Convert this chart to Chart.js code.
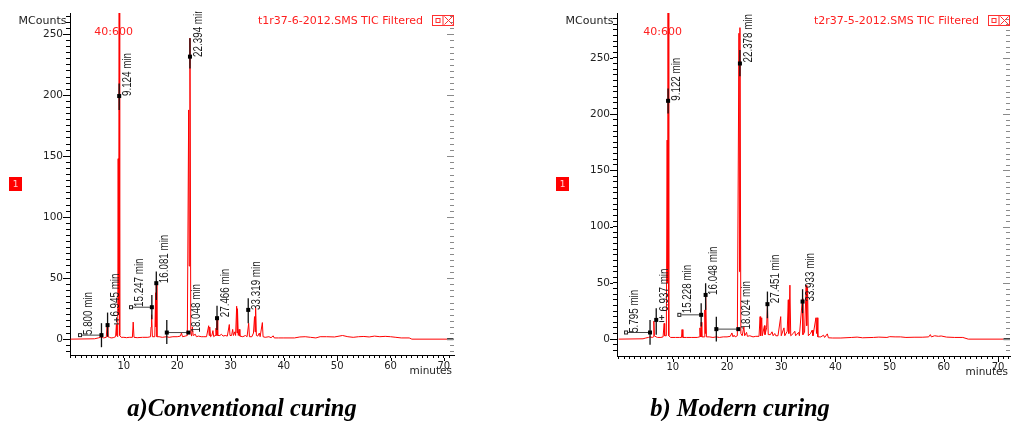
<!DOCTYPE html>
<html><head><meta charset="utf-8">
<script src="https://cdn.jsdelivr.net/npm/chart.js@4.4.1/dist/chart.umd.min.js"></script>
<style>
html,body{margin:0;padding:0;background:#fff;}
#page{position:relative;width:1012px;height:421px;overflow:hidden;background:#fff;}
canvas{position:absolute;top:0;}
.cap{position:absolute;width:400px;text-align:center;font-family:"Liberation Serif","Times New Roman",serif;font-weight:bold;font-style:italic;font-size:24.5px;line-height:24px;top:396px;white-space:nowrap;color:#000;}
</style></head><body>
<div id="page">
<canvas id="cA" width="470" height="421" style="left:0px"></canvas>
<canvas id="cB" width="482" height="421" style="left:530px"></canvas>
<div class="cap" style="left:42px">a)Conventional curing</div>
<div class="cap" style="left:540px">b) Modern curing</div>
</div>
<script>
// ---------- tick labels ----------
const xTickLabels = [10, 20, 30, 40, 50, 60, 70];
const yTickLabels = [0, 50, 100, 150, 200, 250];

// ---------- a) Conventional curing : TIC trace (minutes, MCounts) ----------
const convTime = [0,4.5,5.2,5.6,5.8,6.2,6.7,6.87,7.0,7.3,7.6,8.0,8.45,8.6,8.7,8.85,8.93,8.98,9.05,9.12,9.22,9.5,10.0,10.5,11.0,11.6,11.75,11.9,12.5,13.5,14.5,15.0,15.1,15.2,15.35,15.8,15.95,16.02,16.08,16.2,16.6,17.2,18.0,18.5,19.2,20.0,20.6,20.8,21.0,21.5,21.9,22.15,22.25,22.39,22.55,22.7,22.85,23.0,23.4,23.6,24.0,24.5,25.0,25.5,25.9,26.0,26.1,26.25,26.5,26.7,26.85,27.1,27.27,27.35,27.47,27.6,28.0,28.3,28.6,29.0,29.4,29.77,29.9,30.2,30.4,30.55,30.8,30.95,31.15,31.22,31.3,31.45,31.6,31.75,32.3,32.8,33.1,33.4,33.55,34.0,34.3,34.5,34.6,34.7,34.85,35.1,35.4,35.55,35.97,36.1,36.5,37.2,37.6,38.0,38.2,39,40,42,43,44,45,46,46.8,48,49.5,51,52,53,54,55,56,57,58,59,60,61,62,63.5,64,70.6];
const convCounts = [0,0.3,1,1.5,2,1,1.5,13,2,1.5,1,1.2,2,12,3,2,148,40,20,300,3,1.5,1.5,1.2,1.5,1.5,14,1.5,1.2,1.5,1.5,2,10,20,2,2,38,10,47,2,2,1.5,2,1.5,2,2,2.5,5,2,2.5,3,188,60,247,5,2.5,10,3,4,2,2.5,2,2,2,11,3,10,2,3,7,2,3,9,3,18,3,3,4,2.5,3,2.5,12,3,3,8,3,6,3,27,5,25,3,8,2.5,2,3,2,13,2,2,5,18.5,6,26,3,2.5,5,2,13.6,2,1.5,2,1.2,2.7,1,1,1,1,1.8,2,1.5,1,2,2,1.8,3,2,1.5,2,2.2,1.8,2.5,2,2.3,2,1.5,1,1,0,0];
const convEndTime = [70.6, 71.8];
const convEndCounts = [0, 0];

// peak marks (a)
const convPeakTime   = [5.800, 6.945, 9.124, 15.247, 16.081, 18.048, 22.394, 27.466, 33.319];
const convPeakCounts = [3.3, 11.5, 199.4, 26.2, 45.9, 5.4, 231.7, 17.2, 24.0];
const convBarLow     = [-6.6, 2.1, 187.9, 16.4, 32.2, -3.9, 222.0, 7.6, 13.1];
const convBarHigh    = [13.1, 21.8, 209.7, 36.3, 55.4, 15.8, 246.7, 27.3, 33.6];
const convLinkTime   = [1.78, null, null, 11.34, null, 22.09, null, null, null];
const convLinkOpen   = [true, false, false, true, false, false, false, false, false];
const convLabelCounts= [3.4, 18.5, 199.4, 26.4, 45.9, 5.4, 231.5, 18.0, 24.0];
const convPlusTime = 8.63, convPlusCounts = 15.8;
const convMainPeak = 9.124;

// ---------- b) Modern curing : TIC trace ----------
const modTime = [0,4.5,5.0,5.5,5.8,6.2,6.4,6.5,6.6,6.9,7.2,7.8,8.2,8.4,8.5,8.8,8.95,9.03,9.12,9.25,9.6,10.5,11.2,11.6,11.7,11.85,12.5,13.5,14.5,14.9,15.0,15.1,15.23,15.35,15.8,15.9,16.0,16.05,16.2,16.7,17.4,18.0,18.6,19.3,20.0,20.6,20.9,21.1,21.3,21.5,21.9,22.2,22.3,22.38,22.55,22.8,23.1,23.25,23.6,23.75,24.2,24.8,25.3,25.9,26.1,26.2,26.4,26.5,26.9,27.0,27.3,27.45,27.6,28.0,28.3,28.5,28.8,29.0,29.4,29.9,30.0,30.5,30.65,31.1,31.3,31.4,31.6,31.75,32.2,32.5,32.65,33.2,33.35,33.9,34.0,34.3,34.6,34.7,34.85,35.0,35.4,35.7,35.85,36.4,36.5,36.6,36.75,37.3,37.8,38.0,38.5,38.7,39.5,41,43,44,45,47,48,49.5,50,51,52,53,54.5,56,57.2,57.5,57.7,58.3,59,59.5,60.5,62,63.5,64.5,71.0];
const modCounts = [0,0.3,1,1.5,2,1.5,2,16,3,2,1.5,1.5,2,14,3,3,177,50,310,3,1.5,1.5,1.5,1.5,8.5,1.5,1.5,1.5,1.5,2,10,2,15,2,2,26,5,39,2,2,1.5,2,1.5,2,2,2.5,5.5,2,3.5,2,3,272,60,277,5,3,11,3,6,2.5,3,2,2.5,2.5,20,3,19,3,12,4,10,30,4,4,6.5,3,5,3,3,20,3,10,3,7,35,5,48,3,5,7,3,6,3,36,4,6,48,12,46,3,5,8,3,19,5,19,2,2,3.5,1.5,4.7,1.2,1,1,1.5,1.8,1.2,1.5,1.8,1.5,2.2,2,2,1.5,1.7,1.7,2,4,2,3,2.5,2.8,1.8,1.5,1.5,0,0];
const modEndTime = [71.0, 72.2];
const modEndCounts = [0, 0];

// peak marks (b)
const modPeakTime   = [5.795, 6.937, 9.122, 15.228, 16.048, 18.024, 22.378, 27.451, 33.933];
const modPeakCounts = [5.9, 17.1, 211.9, 21.6, 39.3, 8.9, 245.1, 31.1, 33.4];
const modBarLow     = [-5.0, 3.8, 200.7, 11.2, 26.0, -2.0, 233.8, 18.6, 23.1];
const modBarHigh    = [17.1, 27.5, 222.9, 32.0, 49.7, 20.0, 257.0, 42.3, 44.4];
const modLinkTime   = [1.37, null, null, 11.2, null, 22.08, null, null, null];
const modLinkOpen   = [true, false, false, true, false, false, false, false, false];
const modLabelCounts= [5.6, 24.5, 212.0, 23.0, 39.3, 8.5, 246.0, 32.0, 33.4];
const modPlusTime = 7.95, modPlusCounts = 19.2;
const modMainPeak = 9.122;

// ---------- drawing ----------
function chromPlugin(o){
  return {
    id: 'chrom_' + o.key,
    afterDatasetsDraw(chart){
      const ctx = chart.ctx, a = chart.chartArea, x = chart.scales.x, y = chart.scales.y;
      ctx.save();
      // extra length on major ticks
      ctx.strokeStyle = '#000'; ctx.lineWidth = 1;
      yTickLabels.forEach(v => {
        const py = Math.round(y.getPixelForValue(v)) + 0.5;
        ctx.beginPath(); ctx.moveTo(a.left - 7, py); ctx.lineTo(a.left - 4, py); ctx.stroke();
      });
      xTickLabels.forEach(v => {
        const px = Math.round(x.getPixelForValue(v)) + 0.5;
        ctx.beginPath(); ctx.moveTo(px, a.bottom + 3); ctx.lineTo(px, a.bottom + 6); ctx.stroke();
      });
      // right-side inner ticks (grey)
      ctx.strokeStyle = '#8a8a8a';
      for (let v = -10; v <= o.yTickTo; v += 5) {
        const py = Math.round(y.getPixelForValue(v)) + 0.5;
        const len = (v % 50 === 0) ? 7 : 4;
        ctx.beginPath(); ctx.moveTo(a.right - len, py); ctx.lineTo(a.right, py); ctx.stroke();
      }
      // peak marks
      o.peakTime.forEach((t, i) => {
        const px = x.getPixelForValue(t), py = y.getPixelForValue(o.peakCounts[i]);
        if (o.linkTime[i] != null) {
          const lx = x.getPixelForValue(o.linkTime[i]);
          ctx.strokeStyle = '#444'; ctx.lineWidth = 1;
          ctx.beginPath(); ctx.moveTo(lx, py); ctx.lineTo(px, py); ctx.stroke();
          if (o.linkOpen[i]) {
            ctx.fillStyle = '#fff'; ctx.fillRect(lx - 2, py - 2, 4, 4);
            ctx.strokeStyle = '#222'; ctx.strokeRect(lx - 1.5, py - 1.5, 3, 3);
          } else {
            ctx.fillStyle = '#000'; ctx.fillRect(lx - 2, py - 2, 4, 4);
          }
        }
        ctx.strokeStyle = '#111'; ctx.lineWidth = 1.3;
        ctx.beginPath();
        ctx.moveTo(px, y.getPixelForValue(o.barLow[i]));
        ctx.lineTo(px, y.getPixelForValue(o.barHigh[i]));
        ctx.stroke();
        ctx.fillStyle = '#000'; ctx.fillRect(px - 2, py - 2, 4, 4);
      });
      // small plus mark
      {
        const px = x.getPixelForValue(o.plusTime), py = y.getPixelForValue(o.plusCounts);
        ctx.strokeStyle = '#222'; ctx.lineWidth = 1;
        ctx.beginPath();
        ctx.moveTo(px - 2.5, py); ctx.lineTo(px + 2.5, py);
        ctx.moveTo(px, py - 2.5); ctx.lineTo(px, py + 2.5);
        ctx.moveTo(px - 2.5, py + 4); ctx.lineTo(px + 2.5, py + 4);
        ctx.stroke();
      }
      // rotated retention-time labels
      ctx.save();
      ctx.beginPath(); ctx.rect(0, a.top - 1.5, chart.width, chart.height); ctx.clip();
      ctx.fillStyle = '#1a1a1a';
      ctx.font = '10px "Liberation Sans", Arial, sans-serif';
      ctx.textAlign = 'left'; ctx.textBaseline = 'middle';
      o.peakTime.forEach((t, i) => {
        const at = (o.linkTime[i] != null) ? o.linkTime[i] : t;
        const ax = x.getPixelForValue(at) + 8.5, ay = y.getPixelForValue(o.labelCounts[i]);
        ctx.save();
        ctx.translate(ax, ay); ctx.rotate(-Math.PI / 2); ctx.scale(0.98, 1.22);
        ctx.fillText(t.toFixed(3) + ' min', 0, 0);
        ctx.restore();
      });
      ctx.restore();
      // mass range label
      ctx.fillStyle = '#ff2020';
      ctx.font = '11px "DejaVu Sans", sans-serif';
      ctx.textAlign = 'center'; ctx.textBaseline = 'middle';
      ctx.fillText('40:600', x.getPixelForValue(o.mainPeak) - 5.5, a.top + 18.7);
      ctx.restore();
    },
    afterDraw(chart){
      const ctx = chart.ctx, a = chart.chartArea;
      ctx.save();
      ctx.textBaseline = 'middle';
      // unit label
      ctx.fillStyle = '#222'; ctx.font = '11px "DejaVu Sans", sans-serif'; ctx.textAlign = 'right';
      ctx.fillText('MCounts', a.left - 3.5, a.top + 7.7);
      // axis title
      ctx.font = '10.5px "DejaVu Sans", sans-serif';
      ctx.fillText('minutes', a.right - 2, a.bottom + 16.5);
      // trace title
      ctx.fillStyle = '#ff2020'; ctx.font = '11px "DejaVu Sans", sans-serif';
      ctx.fillText(o.title, a.right - 31, a.top + 7.7);
      // window buttons
      const bx = a.right - 21.5, by = 15.5;
      ctx.strokeStyle = '#ff3030'; ctx.lineWidth = 1;
      ctx.strokeRect(bx, by, 21, 10);
      ctx.beginPath(); ctx.moveTo(bx + 10.5, by); ctx.lineTo(bx + 10.5, by + 10); ctx.stroke();
      ctx.strokeRect(bx + 3.5, by + 3, 4, 4);
      ctx.beginPath();
      ctx.moveTo(bx + 12, by + 1); ctx.lineTo(bx + 20, by + 9);
      ctx.moveTo(bx + 20, by + 1); ctx.lineTo(bx + 12, by + 9);
      ctx.stroke();
      // trace number box
      ctx.fillStyle = '#ff0000';
      ctx.fillRect(a.left - 61, 177, 13, 14);
      ctx.fillStyle = '#ffd0d0'; ctx.font = '9px "DejaVu Sans", sans-serif'; ctx.textAlign = 'center';
      ctx.fillText('1', a.left - 54.5, 184.5);
      ctx.restore();
    }
  };
}

function buildChart(id, o){
  const yTicks = []; for (let v = -10; v <= o.yTickTo; v += 5) yTicks.push(v);
  const xTicks = []; for (let v = 0; v <= o.xTickTo; v += 1) xTicks.push(v);
  return new Chart(document.getElementById(id), {
    type: 'scatter',
    data: { datasets: [
      { data: o.time.map((t, i) => ({x: t, y: o.counts[i]})), showLine: true, borderColor: '#ff0000', borderWidth: 1, pointRadius: 0, tension: 0 },
      { data: o.endTime.map((t, i) => ({x: t, y: o.endCounts[i]})), showLine: true, borderColor: '#222', borderWidth: 2, pointRadius: 0 }
    ]},
    options: {
      responsive: false, animation: false, devicePixelRatio: 1, events: [],
      layout: { padding: { left: 0, right: o.padRight, top: 13, bottom: o.padBottom } },
      plugins: { legend: { display: false }, tooltip: { enabled: false }, title: { display: false } },
      scales: {
        x: {
          type: 'linear', min: o.xMin, max: o.xMax,
          afterBuildTicks: s => { s.ticks = xTicks.map(v => ({value: v})); },
          afterFit: s => { s.height = 30; },
          ticks: { autoSkip: false, maxRotation: 0, padding: 2, color: '#222', font: { family: 'DejaVu Sans', size: 10 },
                   callback: v => xTickLabels.includes(v) ? String(v) : '' },
          grid: { display: true, drawOnChartArea: false, drawTicks: true, tickLength: 3, tickColor: '#000', tickWidth: 1 },
          border: { display: true, color: '#000', width: 1 }
        },
        y: {
          type: 'linear', min: o.yMin, max: o.yMax,
          afterBuildTicks: s => { s.ticks = yTicks.map(v => ({value: v})); },
          afterFit: s => { s.width = o.yWidth; },
          ticks: { autoSkip: false, padding: 3, color: '#222', font: { family: 'DejaVu Sans', size: 10.5 },
                   callback: v => yTickLabels.includes(v) ? String(v) : '' },
          grid: { display: true, drawOnChartArea: false, drawTicks: true, tickLength: 4, tickColor: '#000', tickWidth: 1 },
          border: { display: true, color: '#000', width: 1 }
        }
      }
    },
    plugins: [chromPlugin(o)]
  });
}

buildChart('cA', {
  key: 'a', title: 't1r37-6-2012.SMS TIC Filtered',
  time: convTime, counts: convCounts, endTime: convEndTime, endCounts: convEndCounts,
  peakTime: convPeakTime, peakCounts: convPeakCounts, barLow: convBarLow, barHigh: convBarHigh,
  linkTime: convLinkTime, linkOpen: convLinkOpen, labelCounts: convLabelCounts,
  plusTime: convPlusTime, plusCounts: convPlusCounts, mainPeak: convMainPeak,
  xMin: -0.1, xMax: 71.9, xTickTo: 71, yMin: -13, yMax: 267.5, yTickTo: 265,
  yWidth: 70, padRight: 16, padBottom: 36
});
buildChart('cB', {
  key: 'b', title: 't2r37-5-2012.SMS TIC Filtered',
  time: modTime, counts: modCounts, endTime: modEndTime, endCounts: modEndCounts,
  peakTime: modPeakTime, peakCounts: modPeakCounts, barLow: modBarLow, barHigh: modBarHigh,
  linkTime: modLinkTime, linkOpen: modLinkOpen, labelCounts: modLabelCounts,
  plusTime: modPlusTime, plusCounts: modPlusCounts, mainPeak: modMainPeak,
  xMin: -0.3, xMax: 72.2, xTickTo: 72, yMin: -15, yMax: 290, yTickTo: 285,
  yWidth: 87, padRight: 2, padBottom: 35
});
</script>
</body></html>
